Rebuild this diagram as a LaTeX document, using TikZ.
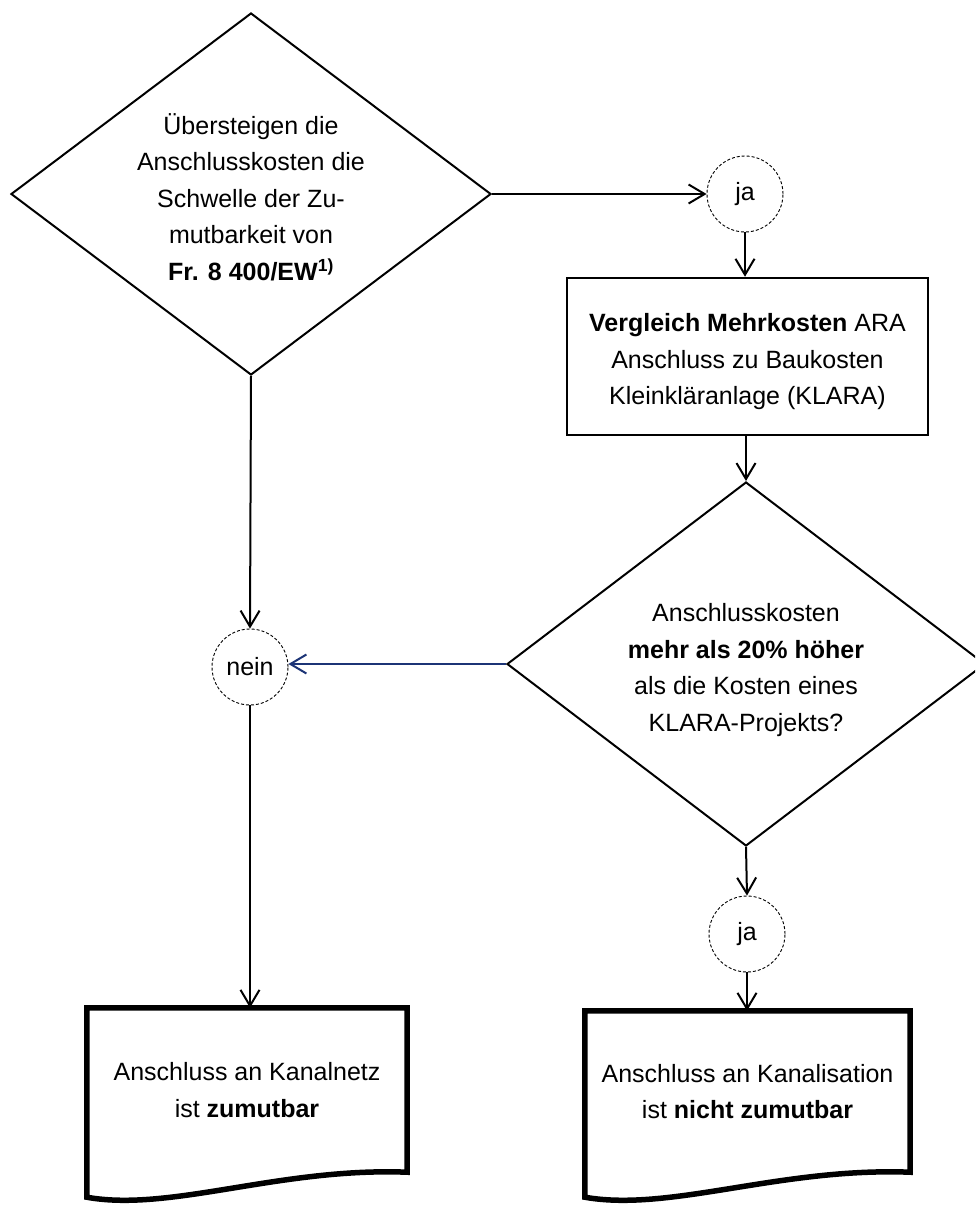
\documentclass[tikz,border=0pt]{standalone}
\usepackage{fontspec}
\setmainfont{Liberation Sans}
\usetikzlibrary{shapes.geometric,arrows.meta,calc}
\definecolor{navyline}{RGB}{28,52,118}
\begin{document}
\begin{tikzpicture}[x=1pt,y=-1pt,
  txt/.style={align=center,font=\fontsize{25}{36.5}\selectfont,inner sep=0pt},
  decision/.style={diamond,draw,line width=2pt,minimum width=480pt,minimum height=362pt,inner sep=0pt,fill=white},
  conn/.style={circle,draw,line width=0.9pt,dash pattern=on 3pt off 2pt,minimum size=76pt,inner sep=0pt,font=\fontsize{25}{30}\selectfont},
  procbox/.style={draw,line width=2.5pt,minimum width=361pt,minimum height=157pt,inner sep=0pt},
  docbox/.style={minimum width=#1,inner sep=0pt,align=center,font=\fontsize{25}{36.5}\selectfont},
  docline/.style={line width=5.5pt,line join=miter},
  arr/.style={line width=2pt,-{Straight Barb[length=16pt,width=19pt]}},
  arrblue/.style={arr,draw=navyline},
]
\useasboundingbox (0,0) rectangle (975,1205);
\clip (0,0) rectangle (975,1205);
\fill[white] (0,0) rectangle (975,1205);

% decision 1
\node[decision] (d1) at (251,194) {};
\node[txt] (d1t) at (251,197) {Übersteigen die\\Anschlusskosten die\\Schwelle der Zu-\\mutbarkeit von\\\textbf{Fr. 8 400/EW\textsuperscript{1)}}};

% ja 1
\node[conn] (ja1) at (745,194) {ja};

% process box
\node[procbox] (box) at (747.5,356.5) {};
\node[txt] (boxt) at (747.5,362) {\textbf{Vergleich Mehrkosten} ARA\\Anschluss zu Baukosten\\Kleinkläranlage (KLARA)};

% decision 2
\node[decision,minimum width=478pt,minimum height=364pt] (d2) at (746,664) {};
\node[txt] (d2t) at (746,670) {Anschlusskosten\\\textbf{mehr als 20\% höher}\\als die Kosten eines\\KLARA-Projekts?};

% ja 2
\node[conn] (ja2) at (747,934) {ja};

% nein
\node[conn] (nein) at (250,667) {nein};

% documents
\node[docbox=320pt,minimum height=164pt] (doc1) at (247,1090) {Anschluss an Kanalnetz\\ist \textbf{zumutbar}};
\node[docbox=325pt,minimum height=161pt] (doc2) at (747.5,1091.5) {Anschluss an Kanalisation\\ist \textbf{nicht zumutbar}};

\draw[docline] (doc1.south east) -- (doc1.north east) -- (doc1.north west) -- ($(doc1.south west)+(0,25)$)
  .. controls ($(doc1.south west)+(83,40)$) and ($(doc1.south east)+(-127,-5)$) .. (doc1.south east) -- cycle;
\draw[docline] (doc2.south east) -- (doc2.north east) -- (doc2.north west) -- ($(doc2.south west)+(0,25)$)
  .. controls ($(doc2.south west)+(85,40)$) and ($(doc2.south east)+(-130,-5)$) .. (doc2.south east) -- cycle;

% connectors
\draw[arr] (d1.east) -- (ja1.west);
\draw[arr] (ja1.south) -- (ja1.south |- box.north);
\draw[arr] (box.south -| d2.north) -- (d2.north);
\draw[arr] (d2.south) -- (ja2.north);
\draw[arr] (ja2.south) -- (ja2.south |- doc2.north);
\draw[arr] (d1.south) -- (nein.north);
\draw[arrblue] (d2.west) -- (nein.east |- d2.west);
\draw[arr] (nein.south) -- (nein.south |- doc1.north);
\end{tikzpicture}
\end{document}
